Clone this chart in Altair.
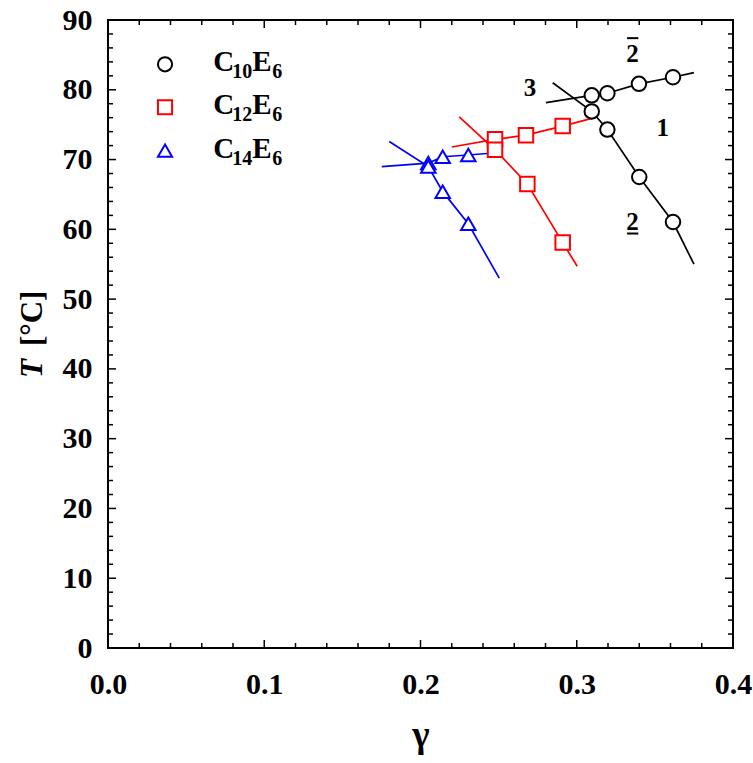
import altair as alt
import pandas as pd

W, H = 625, 628
FONT = "Liberation Serif"

# ---- series definitions
series = ["C10E6", "C12E6", "C14E6"]
colors = ["#000000", "#ff0000", "#0000ff"]
shapes = ["circle", "square", "triangle-up"]
carbon = ["10", "12", "14"]
eo = ["6", "6", "6"]

# ---- measured points (gamma, T)
c10_gamma = [0.3096, 0.3196, 0.3398, 0.3616, 0.3096, 0.3196, 0.3400, 0.3616]
c10_T = [79.2, 79.5, 80.85, 81.8, 76.9, 74.3, 67.5, 61.05]
c12_gamma = [0.2477, 0.2675, 0.2910, 0.2477, 0.2684, 0.2910]
c12_T = [72.9, 73.5, 74.8, 71.4, 66.5, 58.1]
c14_gamma = [0.2050, 0.2142, 0.2306, 0.2050, 0.2142, 0.2306]
c14_T = [69.5, 70.4, 70.65, 69.0, 65.4, 60.8]

# ---- boundary curves (drawn through the points, with their end points)
c10_upper_g = [0.2803, 0.3096, 0.3196, 0.3398, 0.3616, 0.3750]
c10_upper_T = [78.15, 79.2, 79.5, 80.85, 81.8, 82.45]
c10_lower_g = [0.2846, 0.3096, 0.3196, 0.3400, 0.3616, 0.3750]
c10_lower_T = [81.0, 76.9, 74.3, 67.5, 61.05, 55.0]
c12_upper_g = [0.2200, 0.2477, 0.2675, 0.2910, 0.3096]
c12_upper_T = [71.8, 72.9, 73.5, 74.8, 75.9]
c12_lower_g = [0.2248, 0.2477, 0.2684, 0.2910, 0.3003]
c12_lower_T = [76.1, 71.4, 66.5, 58.1, 54.7]
c14_upper_g = [0.1752, 0.2050, 0.2142, 0.2306, 0.2445]
c14_upper_T = [69.0, 69.5, 70.4, 70.65, 70.9]
c14_lower_g = [0.1800, 0.2050, 0.2142, 0.2306, 0.2504]
c14_lower_T = [72.6, 69.0, 65.4, 60.8, 53.0]

# ---- phase labels
phase_text = ["3", "1", "2", "2"]
phase_g = [0.270, 0.355, 0.3357, 0.3357]
phase_T = [80.2, 74.5, 85.1, 61.1]
# over-/under-bars of the 2 labels
bar_g1 = [0.3322, 0.3322]
bar_g2 = [0.3394, 0.3394]
bar_T = [87.4, 59.4]

# ---- legend placement (data coordinates)
legend_g_marker = 0.0365
legend_g_text = 0.0674
legend_T = [83.65, 77.49, 71.27]

# ---- axis ticks
x_major = [0.0, 0.1, 0.2, 0.3, 0.4]
x_minor = [round(0.02 * i, 2) for i in range(21) if i % 5 != 0]
y_major = [0, 10, 20, 30, 40, 50, 60, 70, 80, 90]
y_minor = [v for v in range(0, 91, 2) if v % 10 != 0]

# ---------------- tables
pts = pd.DataFrame({
    "g": c10_gamma + c12_gamma + c14_gamma,
    "T": c10_T + c12_T + c14_T,
    "series": [series[0]] * len(c10_gamma) + [series[1]] * len(c12_gamma) + [series[2]] * len(c14_gamma),
})

seg_rows = []
for s, (ug, uT, lg, lT) in zip(series, [
    (c10_upper_g, c10_upper_T, c10_lower_g, c10_lower_T),
    (c12_upper_g, c12_upper_T, c12_lower_g, c12_lower_T),
    (c14_upper_g, c14_upper_T, c14_lower_g, c14_lower_T),
]):
    for i, (gv, tv) in enumerate(zip(ug, uT)):
        seg_rows.append({"g": gv, "T": tv, "series": s, "seg": s + "_u", "o": i})
    for i, (gv, tv) in enumerate(zip(lg, lT)):
        seg_rows.append({"g": gv, "T": tv, "series": s, "seg": s + "_l", "o": i})
segs = pd.DataFrame(seg_rows)

labels_df = pd.DataFrame({"g": phase_g, "T": phase_T, "text": phase_text})
bars_df = pd.DataFrame({"g": bar_g1, "g2": bar_g2, "T": bar_T})

leg = pd.DataFrame({
    "series": series,
    "gm": [legend_g_marker] * 3,
    "gt": [legend_g_text] * 3,
    "T": legend_T,
    "c": ["C"] * 3,
    "n": carbon,
    "e": ["E"] * 3,
    "m": eo,
})

xmaj = pd.DataFrame({"g": x_major})
xmin = pd.DataFrame({"g": x_minor})
ymaj = pd.DataFrame({"T": y_major})
ymin = pd.DataFrame({"T": y_minor})

# ---------------- scales / encodings
xs = alt.Scale(domain=[0, 0.4], nice=False, zero=False)
ys = alt.Scale(domain=[0, 90], nice=False, zero=False)

x_axis = alt.Axis(
    values=x_major, format=".1f", labelFont=FONT, labelFontSize=30,
    labelFontWeight="bold", labelColor="black", labelPadding=21,
    labelFlush=False, labelOverlap=False, ticks=False, tickSize=0,
    domain=False, grid=False, title="γ", titleFont=FONT, titleFontSize=37,
    titleFontWeight="bold", titleColor="black", titleY=98,
    titleBaseline="alphabetic",
)
y_axis = alt.Axis(
    values=y_major, format="d", labelFont=FONT, labelFontSize=30,
    labelFontWeight="bold", labelColor="black", labelPadding=16,
    labelFlush=False, labelOverlap=False, ticks=False, tickSize=0,
    domain=False, grid=False, title=None,
)


def X(field="g"):
    return alt.X(f"{field}:Q", scale=xs, axis=x_axis)


def Y(field="T"):
    return alt.Y(f"{field}:Q", scale=ys, axis=y_axis)


col_scale = alt.Scale(domain=series, range=colors)
shape_scale = alt.Scale(domain=series, range=shapes)

lines = alt.Chart(segs).mark_line(strokeWidth=1.7).encode(
    x=X(), y=Y(),
    color=alt.Color("series:N", scale=col_scale, legend=None),
    detail="seg:N",
    order="o:Q",
)

points = alt.Chart(pts).mark_point(filled=True, fill="white", strokeWidth=2, size=210, opacity=1).encode(
    x=X(), y=Y(),
    stroke=alt.Stroke("series:N", scale=col_scale, legend=None),
    shape=alt.Shape("series:N", scale=shape_scale, legend=None),
)

phase = alt.Chart(labels_df).mark_text(
    font=FONT, fontSize=25, fontWeight="bold", color="black", baseline="middle", align="center"
).encode(x=X(), y=Y(), text="text:N")

bars = alt.Chart(bars_df).mark_rule(color="black", strokeWidth=2).encode(
    x=X(), x2="g2:Q", y=Y()
)

# legend
leg_pts = alt.Chart(leg).mark_point(filled=True, fill="white", strokeWidth=2, size=200, opacity=1).encode(
    x=X("gm"), y=Y(),
    stroke=alt.Stroke("series:N", scale=col_scale, legend=None),
    shape=alt.Shape("series:N", scale=shape_scale, legend=None),
)
big = dict(font=FONT, fontWeight="bold", color="black", align="left", baseline="alphabetic")
leg_c = alt.Chart(leg).mark_text(fontSize=29, dx=0, dy=7, **big).encode(x=X("gt"), y=Y(), text="c:N")
leg_n = alt.Chart(leg).mark_text(fontSize=20, dx=19, dy=14, **big).encode(x=X("gt"), y=Y(), text="n:N")
leg_e = alt.Chart(leg).mark_text(fontSize=29, dx=39, dy=7, **big).encode(x=X("gt"), y=Y(), text="e:N")
leg_m = alt.Chart(leg).mark_text(fontSize=20, dx=59, dy=14, **big).encode(x=X("gt"), y=Y(), text="m:N")

# inward ticks on all four sides
tk = dict(color="black", strokeWidth=1.5)
ticks = [
    alt.Chart(xmaj).mark_rule(**tk).encode(x=X(), y=alt.value(H), y2=alt.value(H - 8)),
    alt.Chart(xmin).mark_rule(**tk).encode(x=X(), y=alt.value(H), y2=alt.value(H - 5)),
    alt.Chart(xmaj).mark_rule(**tk).encode(x=X(), y=alt.value(0), y2=alt.value(8)),
    alt.Chart(xmin).mark_rule(**tk).encode(x=X(), y=alt.value(0), y2=alt.value(5)),
    alt.Chart(ymaj).mark_rule(**tk).encode(y=Y(), x=alt.value(0), x2=alt.value(8)),
    alt.Chart(ymin).mark_rule(**tk).encode(y=Y(), x=alt.value(0), x2=alt.value(5)),
    alt.Chart(ymaj).mark_rule(**tk).encode(y=Y(), x=alt.value(W), x2=alt.value(W - 8)),
    alt.Chart(ymin).mark_rule(**tk).encode(y=Y(), x=alt.value(W), x2=alt.value(W - 5)),
]

# y-axis title: italic T and [°C]
ttl = pd.DataFrame({"a": [0]})
yt_T = alt.Chart(ttl).mark_text(
    text="T", font=FONT, fontSize=31, fontWeight="bold", fontStyle="italic",
    angle=270, align="left", baseline="alphabetic", color="black",
).encode(x=alt.value(-66), y=alt.value(358))
yt_C = alt.Chart(ttl).mark_text(
    text="[°C]", font=FONT, fontSize=31, fontWeight="bold",
    angle=270, align="left", baseline="alphabetic", color="black",
).encode(x=alt.value(-66), y=alt.value(326))

chart = alt.layer(
    *ticks, lines, bars, points, phase, leg_pts, leg_c, leg_n, leg_e, leg_m, yt_T, yt_C
).properties(
    width=W, height=H,
    autosize=alt.AutoSizeParams(type="none"),
    padding={"left": 108, "top": 20, "right": 20, "bottom": 115},
).configure_view(stroke="black", strokeWidth=2)

chart.save("out.html", embed_options={"renderer": "svg", "actions": False})
